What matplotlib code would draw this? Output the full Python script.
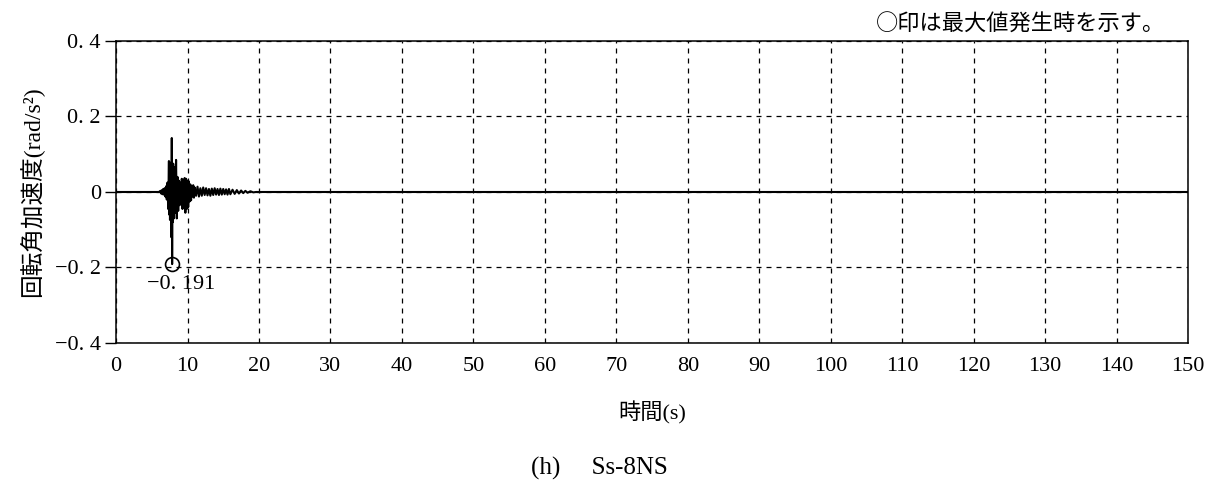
import matplotlib
matplotlib.use('Agg')
import matplotlib.pyplot as plt
import numpy as np

plt.rcParams['font.family'] = ['Liberation Serif', 'Noto Sans CJK JP', 'DejaVu Sans']

# time history (s, rad/s^2)
time_s = [0.0, 6.0, 6.2, 6.3, 6.4, 6.5, 6.6, 6.7, 6.8, 6.9, 7.0, 7.1, 7.2, 7.3,
          7.4, 7.45, 7.5, 7.55, 7.6, 7.65, 7.7, 7.75, 7.8, 7.85, 7.9, 7.95,
          8.0, 8.1, 8.2, 8.3, 8.4, 8.5, 8.6, 8.7, 8.8, 8.9, 9.0, 9.1, 9.2,
          9.3, 9.4, 9.5, 9.6, 9.7, 9.8, 9.9, 10.0, 10.1, 10.2, 10.3, 10.4,
          10.5, 10.6, 10.7, 10.8, 10.9, 11.0, 11.2, 11.4, 11.6, 11.8, 12.0,
          12.2, 12.4, 12.6, 12.8, 13.0, 13.2, 13.4, 13.6, 13.8, 14.0, 14.2,
          14.4, 14.6, 14.8, 15.0, 15.2, 15.4, 15.6, 15.8, 16.0, 16.3, 16.6,
          16.9, 17.2, 17.5, 17.8, 18.1, 18.4, 18.8, 19.2, 19.6, 150.0]
accel = [0.0, 0.0, 0.003, -0.004, 0.005, -0.006, 0.008, -0.007, 0.010, -0.012,
         0.015, -0.020, 0.025, -0.045, 0.082, -0.060, 0.070, -0.074, 0.060,
         -0.050, 0.078, -0.120, 0.143, -0.191, 0.060, -0.080, 0.075, -0.070,
         0.065, -0.055, 0.085, -0.070, 0.040, -0.050, 0.030, -0.035, 0.025,
         -0.030, 0.035, -0.045, 0.030, -0.040, 0.037, -0.055, 0.035, -0.045,
         0.030, -0.040, 0.028, -0.025, 0.020, -0.022, 0.015, -0.012, 0.018,
         -0.015, 0.012, -0.010, 0.014, -0.012, 0.010, -0.010, 0.012, -0.008,
         0.010, -0.009, 0.008, -0.010, 0.009, -0.008, 0.010, -0.007, 0.008,
         -0.008, 0.009, -0.007, 0.008, -0.006, 0.007, -0.007, 0.008, -0.006,
         0.006, -0.005, 0.005, -0.004, 0.004, -0.003, 0.003, -0.002, 0.002,
         -0.001, 0.0, 0.0]

peak_t = 7.85
peak_v = -0.191

x_ticks = list(range(0, 151, 10))
y_ticks = [-0.4, -0.2, 0, 0.2, 0.4]
y_labels = ['\u22120. 4', '\u22120. 2', '0', '0. 2', '0. 4']

fig = plt.figure(figsize=(12.24, 4.97), dpi=100)
ax = fig.add_axes([0.0948, 0.3099, 0.8758, 0.6076])

ax.plot(time_s, accel, color='black', lw=1.5)
ax.plot([peak_t], [peak_v], 'o', mfc='none', mec='black', ms=10, mew=1.2)
ax.text(peak_t + 1.3, peak_v - 0.03, '\u22120. 191', fontsize=16,
        ha='center', va='top')

ax.set_xlim(0, 150)
ax.set_ylim(-0.4, 0.4)
ax.set_xticks(x_ticks)
ax.set_yticks(y_ticks)
ax.set_yticklabels(y_labels)
ax.tick_params(axis='x', length=0, pad=10, labelsize=16)
ax.tick_params(axis='y', direction='out', length=8, width=1, pad=3, labelsize=16)
ax.grid(True, color='black', linestyle=(0, (4, 4)), lw=0.9)
for s in ax.spines.values():
    s.set_linewidth(1.1)

ax.set_xlabel('時間(s)', fontsize=16, labelpad=18)
ax.set_ylabel('回転角加速度(rad/s²)', fontsize=17, labelpad=8)

fig.text(0.952, 0.975, '○印は最大値発生時を示す。', fontsize=16,
         ha='right', va='top', family=['Noto Sans CJK JP'])
fig.text(0.49, 0.058, '(h)\u3000 Ss-8NS', fontsize=18, ha='center', va='center')

fig.savefig('out.png', dpi=100)
